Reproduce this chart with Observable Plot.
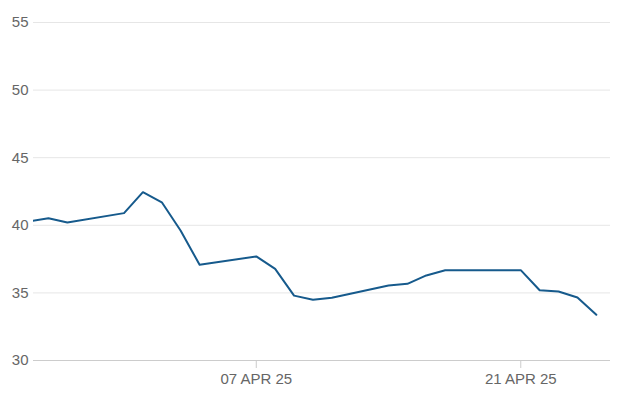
<!DOCTYPE html>
<html>
<head>
<meta charset="utf-8">
<script src="https://cdn.jsdelivr.net/npm/d3@7"></script>
<script src="https://cdn.jsdelivr.net/npm/@observablehq/plot@0.6"></script>
<style>
  html, body { margin: 0; padding: 0; background: #fff; }
  #chart svg { display: block; }
</style>
</head>
<body>
<div id="chart"></div>
<script>
const dates = ["2025-03-26","2025-03-27","2025-03-28","2025-03-31","2025-04-01","2025-04-02","2025-04-03","2025-04-04",
  "2025-04-07","2025-04-08","2025-04-09","2025-04-10","2025-04-11","2025-04-14","2025-04-15","2025-04-16","2025-04-17",
  "2025-04-18","2025-04-21","2025-04-22","2025-04-23","2025-04-24","2025-04-25"];
const values = [40.3, 40.52, 40.2, 40.9, 42.45, 41.7, 39.6, 37.08,
  37.7, 36.78, 34.8, 34.49, 34.64, 35.55, 35.67, 36.29, 36.68,
  36.68, 36.68, 35.2, 35.1, 34.66, 33.38];
const yTicks = [30, 35, 40, 45, 50, 55];
const xTickDates = ["2025-04-07", "2025-04-21"];
const xTickLabels = ["07 APR 25", "21 APR 25"];

const parse = d3.utcParse("%Y-%m-%d");
const data = dates.map((d, i) => ({date: parse(d), value: values[i]}));
const xTicks = xTickDates.map(parse);
const labelOf = new Map(xTicks.map((d, i) => [+d, xTickLabels[i]]));

const chart = Plot.plot({
  width: 626,
  height: 417,
  marginLeft: 33,
  marginRight: 16,
  marginTop: 22,
  marginBottom: 57,
  style: {fontFamily: "'Liberation Sans', Arial, sans-serif", fontSize: "15px", color: "#666", background: "#fff"},
  x: {type: "utc", domain: [new Date(Date.UTC(2025, 2, 26, 5)), new Date(Date.UTC(2025, 3, 25, 18))]},
  y: {domain: [30, 55]},
  marks: [
    Plot.ruleY(yTicks.filter(d => d !== 30), {stroke: "#e6e6e6", strokeWidth: 1}),
    Plot.ruleY([30], {stroke: "#cccccc", strokeWidth: 1}),
    Plot.axisY({ticks: yTicks, tickSize: 0, tickPadding: 5, label: null, fill: "#666", fontSize: 15}),
    Plot.axisX({ticks: xTicks, tickSize: 8, tickPadding: 5, label: null, stroke: "#cccccc", fill: "#666", fontSize: 15,
      tickFormat: d => labelOf.get(+d)}),
    Plot.line(data, {x: "date", y: "value", stroke: "#165a8c", strokeWidth: 2, clip: true})
  ]
});
document.getElementById("chart").appendChild(chart);
</script>
</body>
</html>
